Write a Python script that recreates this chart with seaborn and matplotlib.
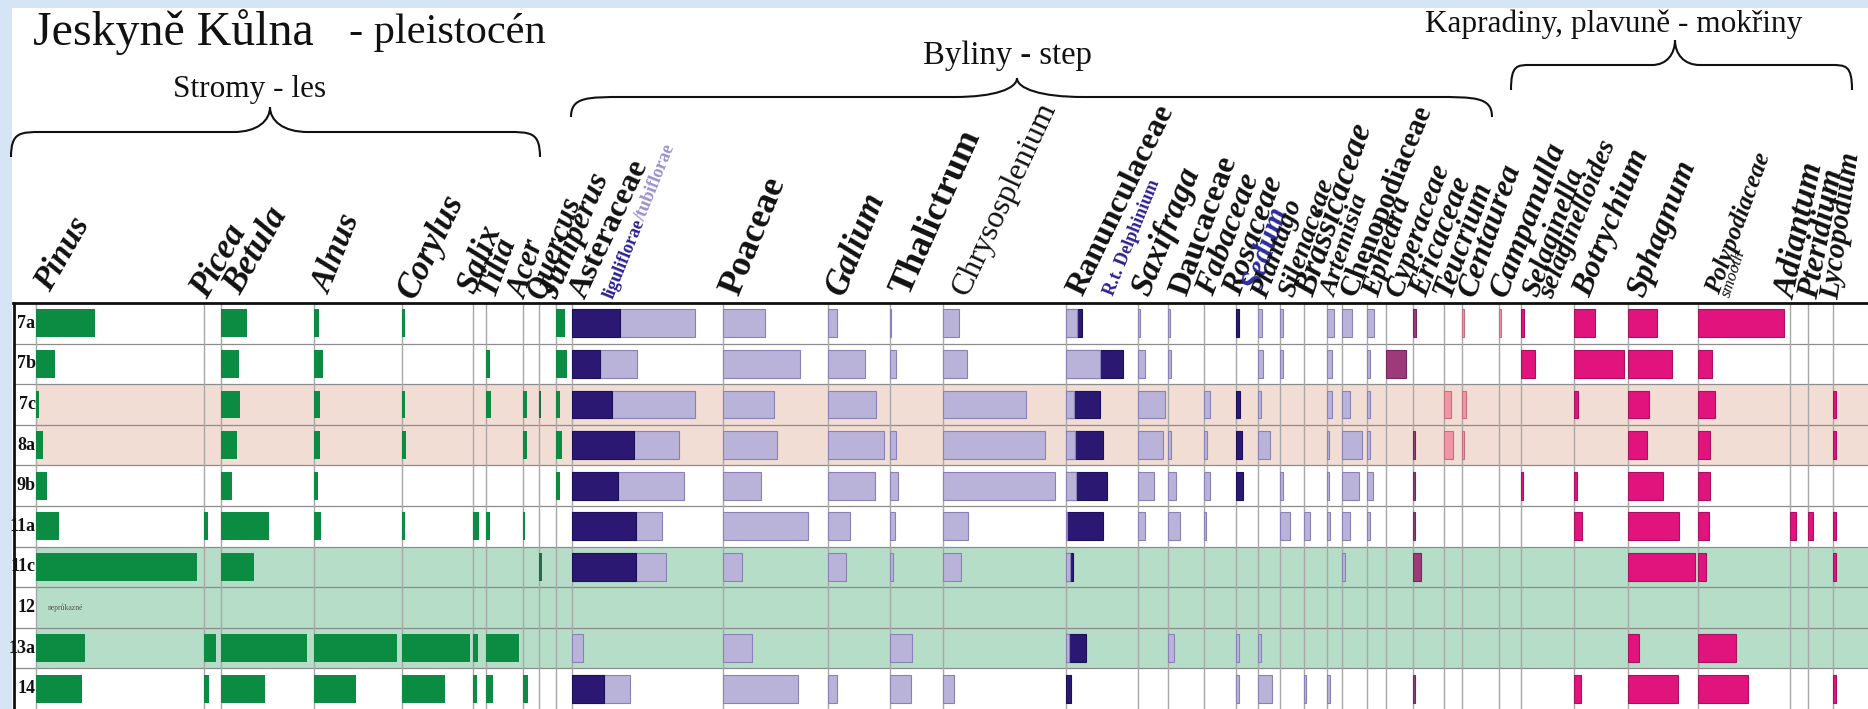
import numpy as np
import seaborn as sns
import matplotlib.pyplot as plt
from matplotlib.path import Path
from matplotlib.patches import PathPatch, Rectangle

# samples (layers of the cave profile)
rows = ["7a", "7b", "7c", "8a", "9b", "11a", "11c", "12", "13a", "14"]

# pollen values (%), one list per taxon, in row order
# trees
pinus = [29.5, 9.5, 1.5, 3.5, 5.5, 11.5, 80.5, 0, 24.5, 23]
picea = [0, 0, 0, 0, 0, 2, 0, 0, 6, 2.5]
betula = [13, 9, 9.5, 8, 5.5, 24, 16.5, 0, 43, 22]
alnus = [2.5, 4.5, 3, 3, 2, 3.5, 0, 0, 41.5, 21]
corylus = [1.5, 0, 1.5, 2, 0, 1.5, 0, 0, 34, 21.5]
salix = [0, 0, 0, 0, 0, 3, 0, 0, 2.5, 2]
tilia = [0, 2, 2.5, 0, 0, 2, 0, 0, 16.5, 3.5]
acer = [0, 0, 2, 2, 0, 1, 0, 0, 0, 2.5]
quercus = [0, 0, 1, 0, 0, 0, 1.5, 0, 0, 0]
juniperus = [4.5, 5.5, 2, 3, 2, 0, 0, 0, 0, 0]
# herbs
liguliflorae = [24, 14, 20, 31, 23, 32, 32, 0, 0, 16]
tubiflorae = [37.5, 18.5, 41.5, 22.5, 33, 13, 15, 0, 5.5, 13]
poaceae = [21, 38.5, 25.5, 27, 19, 42.5, 9.5, 0, 14.5, 37.5]
galium = [4.5, 18.5, 24, 28, 23.5, 11, 9, 0, 0, 4.5]
thalictrum = [0.5, 3, 0, 3, 4, 2.5, 1.5, 0, 11, 10.5]
chrysosplenium = [8, 12, 41.5, 51, 56, 12.5, 9, 0, 0, 5.5]
ranunculaceae = [5.5, 17, 4, 4.5, 5, 0.5, 2, 0, 1.5, 0]
delphinium = [2.5, 11.5, 13, 14, 15.5, 18, 1.5, 0, 8.5, 2.5]
saxifraga = [1, 3.5, 13.5, 12.5, 8, 3.5, 0, 0, 0, 0]
daucaceae = [1, 1.5, 0, 1.5, 4, 6, 0, 0, 3, 0]
fabaceae = [0, 0, 3, 1.5, 3, 1, 0, 0, 0, 0]
rosaceae = [0, 0, 0, 0, 0, 0, 0, 0, 1.5, 1.5]
sedum = [1.5, 0, 2, 3, 3.5, 0, 0, 0, 0, 0]
plantago = [2, 2.5, 1.5, 6, 0, 0, 0, 0, 1.5, 7]
silenaceae = [1.5, 1.5, 0, 0, 1.5, 5, 0, 0, 0, 0]
brassicaceae = [0, 0, 0, 0, 0, 3, 0, 0, 0, 1]
artemisia = [3.5, 2.5, 2.5, 1, 1, 1.5, 0, 0, 0, 1.5]
chenopodiaceae = [5, 0, 4, 10, 8.5, 4, 1.5, 0, 0, 0]
ephedra = [3.5, 1.5, 1.5, 1.5, 3, 1.5, 0, 0, 0, 0]
cyperaceae = [0, 10, 0, 0, 0, 0, 0, 0, 0, 0]
ericaceae = [1.5, 0, 0, 1, 1, 1, 4, 0, 0, 1]
teucrium = [0, 0, 3.5, 4.5, 0, 0, 0, 0, 0, 0]
centaurea = [1, 0, 2, 1, 0, 0, 0, 0, 0, 0]
campanulla = [1, 0, 0, 0, 0, 0, 0, 0, 0, 0]
# ferns, clubmosses, mosses
selaginella = [1.5, 7, 0, 0, 1, 0, 0, 0, 0, 0]
botrychium = [10.5, 25, 2, 0, 1.5, 4, 0, 0, 0, 3.5]
sphagnum = [14.5, 22, 10.5, 9.5, 17.5, 25.5, 33.5, 0, 5.5, 25]
polypodiaceae = [43, 7, 8.5, 6, 6, 5.5, 4, 0, 19, 25]
adiantum = [0, 0, 0, 0, 0, 3, 0, 0, 0, 0]
pteridium = [0, 0, 0, 0, 0, 2.5, 0, 0, 0, 0]
lycopodium = [0, 0, 1.5, 1.5, 0, 1.5, 1.5, 0, 0, 1.5]

asteraceae_total = list(np.add(liguliflorae, tubiflorae))
ranunc_total = list(np.add(ranunculaceae, delphinium))

# ---- layout (pixels of the 1868x709 picture) ----
W, H = 1868, 709
TOP = 303          # top frame line of the table
LEFT = 13.5        # left frame line
SCALE = 2.0        # px per percent
AXW = 180          # width of each column axes in px

GREEN = "#0b8c42"
DKGREEN = "#236b47"
NAVY = "#2a1872"
LAV = "#b9b3da"
MAUVE = "#9c3a7a"
SALMON = "#ef97a6"
MAGENTA = "#e1137d"
EDGES = {GREEN: "none", DKGREEN: "none", NAVY: "#1c1058", LAV: "#8a82b6",
         MAUVE: "#76285c", SALMON: "#c4707f", MAGENTA: "#a8125e"}

columns = [
    (36.4, [(pinus, GREEN)]),
    (204.4, [(picea, GREEN)]),
    (221.4, [(betula, GREEN)]),
    (313.6, [(alnus, GREEN)]),
    (402.1, [(corylus, GREEN)]),
    (473.3, [(salix, GREEN)]),
    (485.6, [(tilia, GREEN)]),
    (523.1, [(acer, GREEN)]),
    (539.0, [(quercus, DKGREEN)]),
    (555.6, [(juniperus, GREEN)]),
    (572.3, [(asteraceae_total, LAV), (liguliflorae, NAVY)]),
    (723.2, [(poaceae, LAV)]),
    (827.9, [(galium, LAV)]),
    (890.4, [(thalictrum, LAV)]),
    (943.2, [(chrysosplenium, LAV)]),
    (1066.4, [(ranunc_total, NAVY), (ranunculaceae, LAV)]),
    (1137.7, [(saxifraga, LAV)]),
    (1168.3, [(daucaceae, LAV)]),
    (1204.3, [(fabaceae, LAV)]),
    (1236.0, [(rosaceae, LAV), (sedum, NAVY)]),
    (1258.3, [(plantago, LAV)]),
    (1280.0, [(silenaceae, LAV)]),
    (1304.3, [(brassicaceae, LAV)]),
    (1326.7, [(artemisia, LAV)]),
    (1342.2, [(chenopodiaceae, LAV)]),
    (1367.3, [(ephedra, LAV)]),
    (1385.7, [(cyperaceae, MAUVE)]),
    (1412.5, [(ericaceae, MAUVE)]),
    (1444.0, [(teucrium, SALMON)]),
    (1462.4, [(centaurea, SALMON)]),
    (1499.3, [(campanulla, SALMON)]),
    (1521.2, [(selaginella, MAGENTA)]),
    (1574.3, [(botrychium, MAGENTA)]),
    (1628.3, [(sphagnum, MAGENTA)]),
    (1698.3, [(polypodiaceae, MAGENTA)]),
    (1790.0, [(adiantum, MAGENTA)]),
    (1808.3, [(pteridium, MAGENTA)]),
    (1833.3, [(lycopodium, MAGENTA)]),
]

# taxon labels: text, anchor x, anchor y, rotation, size, weight, style, colour
BLK = "#111111"
labels = [
    ("Pinus", 50, 293, 60, 24, "bold", "italic", BLK),
    ("Picea", 207, 300, 60, 25, "bold", "italic", BLK),
    ("Betula", 240, 296, 60, 25, "bold", "italic", BLK),
    ("Alnus", 330, 295, 68, 24, "bold", "italic", BLK),
    ("Corylus", 415, 300, 64, 25, "bold", "italic", BLK),
    ("Salix", 474, 295, 68, 24, "bold", "italic", BLK),
    ("Tilia", 494, 297, 70, 23, "bold", "italic", BLK),
    ("Acer", 526, 300, 72, 22, "bold", "italic", BLK),
    ("Quercus", 544, 300, 70, 22, "bold", "italic", BLK),
    ("Juniperus", 557, 300, 67, 23, "bold", "italic", BLK),
    ("Asteraceae", 585, 300, 65, 23, "bold", "normal", BLK),
    ("Poaceae", 738, 297, 68, 26, "bold", "normal", BLK),
    ("Galium", 844, 297, 68, 25, "bold", "italic", BLK),
    ("Thalictrum", 908, 297, 66, 26, "bold", "normal", BLK),
    ("Chrysosplenium", 967, 297, 65, 23, "normal", "normal", BLK),
    ("Ranunculaceae", 1082, 297, 64, 23, "bold", "normal", BLK),
    ("R.t. Delphinium", 1113, 297, 68, 13, "bold", "normal", "#2b2090"),
    ("Saxifraga", 1149, 297, 68, 24, "bold", "italic", BLK),
    ("Daucaceae", 1186, 297, 70, 23, "bold", "normal", BLK),
    ("Fabaceae", 1213, 297, 69, 23, "bold", "italic", BLK),
    ("Rosaceae", 1240, 297, 70, 23, "bold", "italic", BLK),
    ("Sedum", 1259, 292, 71, 22, "bold", "italic", "#2c2c9c"),
    ("Plantago", 1266, 300, 70, 20, "bold", "italic", BLK),
    ("Silenaceae", 1293, 298, 71, 20, "bold", "italic", BLK),
    ("Brassicaceae", 1313, 298, 71, 24, "bold", "italic", BLK),
    ("Artemisia", 1335, 298, 72, 19, "bold", "italic", BLK),
    ("Chenopodiaceae", 1355, 298, 68, 21, "bold", "normal", BLK),
    ("Ephedra", 1379, 298, 72, 21, "bold", "italic", BLK),
    ("Cyperaceae", 1401, 298, 70, 21, "bold", "italic", BLK),
    ("Ericaceae", 1426, 298, 69, 22, "bold", "italic", BLK),
    ("Teucrium", 1450, 298, 70, 22, "bold", "italic", BLK),
    ("Centaurea", 1475, 298, 71, 23, "bold", "italic", BLK),
    ("Campanulla", 1506, 298, 69, 23, "bold", "italic", BLK),
    ("Selaginella", 1538, 298, 70, 21, "bold", "italic", BLK),
    ("selaginelloides", 1553, 300, 68, 20, "bold", "italic", BLK),
    ("Botrychium", 1590, 298, 68, 23, "bold", "italic", BLK),
    ("Sphagnum", 1644, 298, 69, 23, "bold", "italic", BLK),
    ("Polypodiaceae", 1719, 295, 70, 18, "bold", "italic", BLK),
    ("smooth", 1730, 298, 72, 12, "normal", "italic", BLK),
    ("Adiantum", 1795, 300, 78, 24, "bold", "italic", BLK),
    ("Pteridium", 1817, 300, 79, 23, "bold", "italic", BLK),
    ("Lycopodium", 1838, 300, 82, 21, "bold", "italic", BLK),
]

sns.set_theme(style="white")
plt.rcParams["font.family"] = ["Liberation Serif", "DejaVu Serif"]

fig = plt.figure(figsize=(W / 100, H / 100), dpi=100, facecolor="#d5e5f6")
fig.add_artist(Rectangle((12 / W, 0), 1, (H - 7.5) / H, transform=fig.transFigure,
                         facecolor="white", edgecolor="none", zorder=-5))

# table frame, shading, grid
tab = fig.add_axes([LEFT / W, 0, 1 - LEFT / W, (H - TOP) / H], zorder=1)
tab.set_xlim(LEFT, W)
tab.set_ylim(9.5, -0.5)
tab.set_xticks([])
tab.set_yticks([])
tab.spines["right"].set_visible(False)
tab.spines["bottom"].set_visible(False)
tab.spines["top"].set_linewidth(2)
tab.spines["top"].set_color(BLK)
tab.spines["left"].set_linewidth(2)
tab.spines["left"].set_color(BLK)
xfrac = (36.4 - LEFT) / (W - LEFT)
tab.axhspan(1.5, 3.5, xmin=xfrac, color="#f1ddd3", lw=0, zorder=0)
tab.axhspan(5.5, 8.5, xmin=xfrac, color="#b6ddc8", lw=0, zorder=0)
for yy in np.arange(0.5, 9.5):
    tab.axhline(yy, color="#8c8c8c", lw=0.9, zorder=1)
tab.vlines([c[0] for c in columns], -0.5, 9.5, color="#a8a8a8", lw=1, zorder=1)
for i, r in enumerate(rows):
    tab.text(35.5, i, r, ha="right", va="center", fontsize=13, fontweight="bold", color=BLK)
tab.text(48, 7, "neprůkazné", ha="left", va="center", fontsize=5.5, color="#555555")

# one seaborn bar column per taxon
for base, series in columns:
    cax = fig.add_axes([base / W, 0, AXW / W, (H - TOP) / H], zorder=2)
    cax.patch.set_visible(False)
    for vals, col in series:
        ec = EDGES[col]
        sns.barplot(x=vals, y=rows, orient="h", color=col, saturation=1, width=0.68,
                    edgecolor=ec, linewidth=0 if ec == "none" else 0.8,
                    errorbar=None, ax=cax)
    for p in list(cax.patches):
        if not p.get_width() > 0:
            p.remove()
    cax.set_xlim(0, AXW / SCALE)
    cax.set_ylim(9.5, -0.5)
    cax.set_axis_off()

# overlay for titles, braces and labels (pixel coordinates)
ov = fig.add_axes([0, 0, 1, 1], zorder=5)
ov.set_xlim(0, W)
ov.set_ylim(H, 0)
ov.axis("off")
ov.patch.set_visible(False)

ov.text(33, 45, "Jeskyně Kůlna", fontsize=34.5, color=BLK, va="baseline")
ov.text(349, 43, "- pleistocén", fontsize=30.5, color=BLK, va="baseline")
ov.text(250, 97, "Stromy - les", fontsize=22.5, color=BLK, ha="center", va="baseline")
ov.text(1007, 64, "Byliny - step", fontsize=23.5, color=BLK, ha="center", va="baseline")
ov.text(1614, 32, "Kapradiny, plavuně - mokřiny", fontsize=22.5, color=BLK, ha="center", va="baseline")


def brace(x0, x1, xt, ye, yb, yt):
    a, b = 0.12 * (xt - x0), 0.14 * (xt - x0)
    a2, b2 = 0.12 * (x1 - xt), 0.14 * (x1 - xt)
    hm = yb - (yb - yt) * 0.45
    verts = [(x0, ye), (x0, yb), (x0 + 0.3 * a, yb), (x0 + a, yb),
             (xt - b, yb),
             (xt - 0.35 * b, yb), (xt, hm), (xt, yt),
             (xt, hm), (xt + 0.35 * b2, yb), (xt + b2, yb),
             (x1 - a2, yb),
             (x1 - 0.3 * a2, yb), (x1, yb), (x1, ye)]
    codes = [Path.MOVETO, Path.CURVE4, Path.CURVE4, Path.CURVE4,
             Path.LINETO,
             Path.CURVE4, Path.CURVE4, Path.CURVE4,
             Path.CURVE4, Path.CURVE4, Path.CURVE4,
             Path.LINETO,
             Path.CURVE4, Path.CURVE4, Path.CURVE4]
    ov.add_patch(PathPatch(Path(verts, codes), facecolor="none", edgecolor=BLK, lw=1.5))


brace(11, 540, 270, 157, 132, 107)
brace(571, 1492, 1017, 117, 97, 78)
brace(1511, 1852, 1675, 90, 65, 40)

for txt, x, y, rot, size, wt, st, col in labels:
    ov.text(x, y, txt, rotation=rot, rotation_mode="anchor", ha="left", va="baseline",
            fontsize=size, fontweight=wt, fontstyle=st, color=col)

# two-coloured Asteraceae sub-label
renderer = fig.canvas.get_renderer()
tmp = ov.text(0, 0, "liguliflorae", fontsize=13, fontweight="bold")
wpx = tmp.get_window_extent(renderer).width
tmp.remove()
ang = np.deg2rad(68)
ov.text(613, 300, "liguliflorae", rotation=68, rotation_mode="anchor", ha="left",
        va="baseline", fontsize=13, fontweight="bold", color="#2b2090")
ov.text(613 + wpx * np.cos(ang), 300 - wpx * np.sin(ang), "/tubiflorae", rotation=68,
        rotation_mode="anchor", ha="left", va="baseline", fontsize=13,
        fontweight="bold", color="#9a92cc")

fig.savefig("out.png", dpi=100, facecolor=fig.get_facecolor())
